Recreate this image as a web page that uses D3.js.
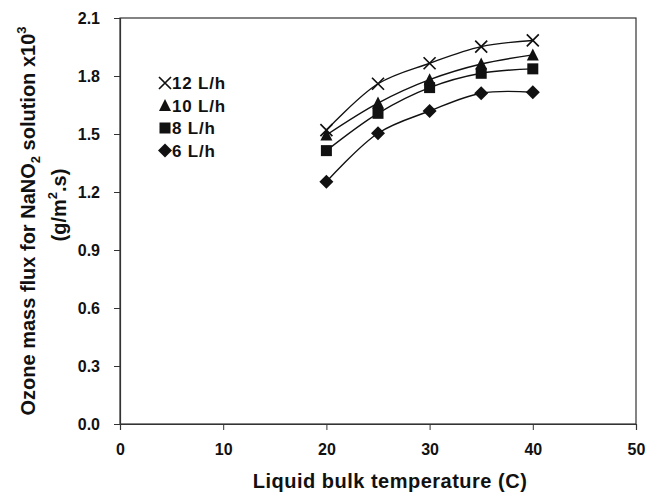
<!DOCTYPE html>
<html>
<head>
<meta charset="utf-8">
<script src="https://cdn.jsdelivr.net/npm/d3@7"></script>
<style>
  body { margin: 0; background: #fff; }
  text { font-family: "Liberation Sans", Arial, sans-serif; font-weight: bold; fill: #111; }
</style>
</head>
<body>
<script>
let width = 647,
  height = 499

// data
let temps = [20, 25, 30, 35, 40]
let flow12 = [1.52, 1.76, 1.866, 1.952, 1.984]
let flow10 = [1.495, 1.66, 1.781, 1.862, 1.909]
let flow8 = [1.414, 1.607, 1.74, 1.814, 1.837]
let flow6 = [1.253, 1.504, 1.619, 1.711, 1.716]
let seriesNames = ['12 L/h', '10 L/h', '8 L/h', '6 L/h']
let seriesMarkers = ['cross', 'triangle', 'square', 'diamond']
let xTicks = [0, 10, 20, 30, 40, 50]
let yTicks = [0, 0.3, 0.6, 0.9, 1.2, 1.5, 1.8, 2.1]

let series = [flow12, flow10, flow8, flow6].map((vals, i) => ({
  name: seriesNames[i],
  marker: seriesMarkers[i],
  values: vals.map((v, j) => ({ x: temps[j], y: v }))
}))

let margin = { left: 120, right: 11, top: 18, bottom: 75 }

let x = d3.scaleLinear().domain([0, 50]).range([margin.left, width - margin.right])
let y = d3.scaleLinear().domain([0, 2.1]).range([height - margin.bottom, margin.top])

let svg = d3.select('body').append('svg')
  .attr('width', width)
  .attr('height', height)

// frame
svg.append('rect')
  .attr('x', x(0))
  .attr('y', y(2.1))
  .attr('width', x(50) - x(0))
  .attr('height', y(0) - y(2.1))
  .attr('fill', 'none')
  .attr('stroke', '#333')
  .attr('stroke-width', 1.2)

let xAxis = svg.append('g')
  .attr('transform', `translate(0,${y(0)})`)
  .call(d3.axisBottom(x).tickValues(xTicks).tickSize(6).tickPadding(14).tickFormat(d3.format('d')))
xAxis.select('.domain').attr('stroke', '#333').attr('stroke-width', 1.2)
xAxis.selectAll('.tick line').attr('stroke', '#333')
xAxis.selectAll('text').attr('font-size', 16).attr('font-family', null)

let yAxis = svg.append('g')
  .attr('transform', `translate(${x(0)},0)`)
  .call(d3.axisLeft(y).tickValues(yTicks).tickSize(6).tickPadding(14).tickFormat(d3.format('.1f')))
yAxis.select('.domain').attr('stroke', '#333').attr('stroke-width', 1.2)
yAxis.selectAll('.tick line').attr('stroke', '#333')
yAxis.selectAll('text').attr('font-size', 16).attr('font-family', null)

// axis titles
svg.append('text')
  .attr('x', 390)
  .attr('y', 488)
  .attr('text-anchor', 'middle')
  .attr('font-size', 20)
  .attr('letter-spacing', 0.5)
  .text('Liquid bulk temperature (C)')

let t1 = svg.append('text')
  .attr('transform', 'translate(35,221) rotate(-90)')
  .attr('text-anchor', 'middle')
  .attr('font-size', 20)
t1.append('tspan').text('Ozone mass flux for NaNO')
t1.append('tspan').attr('font-size', 13).attr('dy', 5).text('2')
t1.append('tspan').attr('dy', -5).text(' solution x10')
t1.append('tspan').attr('font-size', 13).attr('dy', -9).text('3')

let t2 = svg.append('text')
  .attr('transform', 'translate(66,205) rotate(-90)')
  .attr('text-anchor', 'middle')
  .attr('font-size', 20)
t2.append('tspan').text('(g/m')
t2.append('tspan').attr('font-size', 13).attr('dy', -9).text('2')
t2.append('tspan').attr('dy', 9).text('.s)')

// lines
let line = d3.line()
  .x(d => x(d.x))
  .y(d => y(d.y))
  .curve(d3.curveCatmullRom.alpha(0.5))

svg.selectAll('.series-line')
  .data(series)
  .enter().append('path')
  .attr('class', 'series-line')
  .attr('d', d => line(d.values))
  .attr('fill', 'none')
  .attr('stroke', '#111')
  .attr('stroke-width', 1.4)

function drawMarker(g, type) {
  if (type === 'cross') {
    g.append('path')
      .attr('d', 'M-6,-6L6,6M-6,6L6,-6')
      .attr('stroke', '#111')
      .attr('stroke-width', 1.7)
      .attr('fill', 'none')
  } else if (type === 'triangle') {
    g.append('path').attr('d', 'M0,-6.5L6,5.5L-6,5.5Z').attr('fill', '#111')
  } else if (type === 'square') {
    g.append('rect').attr('x', -5.5).attr('y', -5.5).attr('width', 11).attr('height', 11).attr('fill', '#111')
  } else {
    g.append('path').attr('d', 'M0,-7L7,0L0,7L-7,0Z').attr('fill', '#111')
  }
}

series.forEach(s => {
  s.values.forEach(d => {
    let g = svg.append('g')
      .attr('class', 'marker')
      .attr('transform', `translate(${x(d.x)},${y(d.y)})`)
    drawMarker(g, s.marker)
  })
})

// legend
let legend = svg.append('g').attr('class', 'legend')
series.forEach((s, i) => {
  let row = legend.append('g')
    .attr('transform', `translate(165,${83 + i * 22.5})`)
  drawMarker(row, s.marker)
  row.append('text')
    .attr('x', 7)
    .attr('dy', 6)
    .attr('font-size', 17)
    .attr('letter-spacing', 0.8)
    .text(s.name)
})
</script>
</body>
</html>
